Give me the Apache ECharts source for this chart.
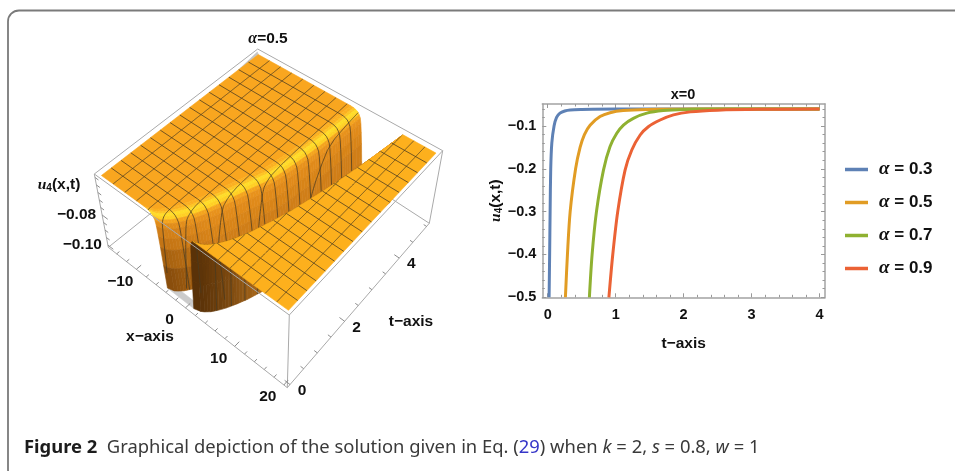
<!DOCTYPE html>
<html><head><meta charset="utf-8"><style>html,body{margin:0;background:#fff}#c{width:955px;height:471px}</style>
<script src="https://cdn.jsdelivr.net/npm/echarts@6/dist/echarts.min.js"></script></head>
<body><div id="c"></div><script>
// ---- right panel: curves ----
const t03=[0.02,0.028,0.035,0.044,0.06,0.093,0.13,0.18,0.25,0.33,0.5,1,2,4];
const u03=[-0.5,-0.4,-0.3,-0.2,-0.14,-0.1,-0.08,-0.07,-0.065,-0.0625,-0.0615,-0.0605,-0.0605,-0.0605];
const t05=[0.26,0.29,0.33,0.41,0.476,0.54,0.623,0.77,0.917,1.11,1.458,2.2,4];
const u05=[-0.5,-0.4,-0.3,-0.2,-0.15,-0.12,-0.098,-0.078,-0.069,-0.064,-0.0615,-0.0605,-0.0605];
const t07=[0.613,0.653,0.717,0.82,0.917,1.016,1.114,1.26,1.458,1.7,2.0,2.6,4];
const u07=[-0.5,-0.4,-0.3,-0.203,-0.148,-0.117,-0.0977,-0.082,-0.07,-0.064,-0.0615,-0.0605,-0.0605];
const t09=[0.9,0.957,1.03,1.138,1.237,1.36,1.48,1.654,1.85,2.1,2.5,3.1,4];
const u09=[-0.5,-0.4,-0.3,-0.203,-0.156,-0.121,-0.1016,-0.086,-0.074,-0.067,-0.063,-0.061,-0.0605];
const names=['α = 0.3','α = 0.5','α = 0.7','α = 0.9'];
const lineColors=['#5e81b5','#e19c24','#8fb131','#eb6235'];
const tTicks=[0,1,2,3,4];
const tMinor=[0.2,0.4,0.6,0.8,1.2,1.4,1.6,1.8,2.2,2.4,2.6,2.8,3.2,3.4,3.6,3.8];
const uTicks=[-0.5,-0.4,-0.3,-0.2,-0.1];
const uMinor=[-0.48,-0.46,-0.44,-0.42,-0.38,-0.36,-0.34,-0.32,-0.28,-0.26,-0.24,-0.22,-0.18,-0.16,-0.14,-0.12,-0.08,-0.06];

// ---- left panel: surface ----
// t rows, crest of the left and right plateau (x value where the wall begins)
const tNodes=[0,0.05,0.1,0.2,0.35,0.5,0.75,1,1.5,2,2.5,3,3.5,4,4.5,5];
const leftCrest=[-7.1,-6,-5.6,-4.95,-4.3,-3.7,-2.95,-2.3,-1.2,-0.1,1.1,1.7,2.2,2.6,2.9,3.2];
const rightCrest=[2.1,3.2,3.7,4.4,5.1,5.7,6.5,7.2,8.3,9.3,10.1,10.9,11.6,12.3,12.9,13.5];
// wall shape: distance from crest and fraction of the drop from plateau to floor
const leftOff=[0,0.6,1.0,1.4,1.7,1.95,2.1,2.25,2.4,2.6,2.85];
const leftDrop=[0,0.004,0.012,0.03,0.06,0.1,0.17,0.3,0.45,0.7,1];
const leftColNear=['#f9a61f','#fbb020','#fdc524','#ffdc28','#ffd024','#f4a41e','#e08c1a','#d07e18','#c47414','#a86210','#8a4e0c'];
const leftColFar=['#f9a61f','#fbb020','#fdc524','#ffdc28','#ffd024','#f4a41e','#e8921c','#e08a1a','#d88418','#d07e18','#c87816'];
const rightOff=[0,0.3,0.5,0.65,0.8,1.0];
const rightDrop=[0,0.03,0.1,0.3,0.6,1];
const rightCol=['#fdae1c','#f39a1a','#e0801a','#c06a14','#a05a10','#8a4e0c'];
const xMesh=[-12.8125,-10.625,-8.4375,-6.25,-4.0625,-1.875,0.3125,2.5,4.6875,6.875,9.0625,11.25,13.4375,15.625,17.8125];
const tMesh=[0.3125,0.625,0.9375,1.25,1.5625,1.875,2.1875,2.5,2.8125,3.125,3.4375,3.75,4.0625,4.375,4.6875];
const xEnds=[-15,20], tEnds=[0,5];
const plateauZ=-0.0535, floorZ=-0.101;
const floorPatchX=[-4.25,1.1,2.2,-2.5], floorPatchT=[0,0,0.15,0.15];
const cornerPatchX=[-15,-15.5,-15], cornerPatchT=[4.4,5.05,5];
const xAxisTicks=[-10,0,10,20], tAxisTicks=[0,2,4], zAxisTicks=[-0.08,-0.1];
const xAxisMinor=[-14,-12,-8,-6,-4,-2,2,4,6,8,12,14,16,18];
const tAxisMinor=[0.5,1,1.5,2.5,3,3.5,4.5,5];
const zAxisMinor=[-0.055,-0.06,-0.065,-0.07,-0.075,-0.085,-0.09,-0.095];

const boxX=[-15.7,20.7], boxT=[-0.1,5.1], boxZ=[-0.1015,-0.0527];
const topFace=[[94.3,174],[289.3,315],[442.7,150.7],[257.7,49]];
const botFace=[[108.3,247.3],[287.3,387.7],[429.3,223.3],[268.7,119]];
function bil(c,u,v,k){return c[0][k]*(1-u)*(1-v)+c[1][k]*u*(1-v)+c[2][k]*u*v+c[3][k]*(1-u)*v;}
function proj(x,t,z){
  const u=(x-boxX[0])/(boxX[1]-boxX[0]),v=(t-boxT[0])/(boxT[1]-boxT[0]),w=(z-boxZ[0])/(boxZ[1]-boxZ[0]);
  return [0,1].map(k=>bil(botFace,u,v,k)*(1-w)+bil(topFace,u,v,k)*w);
}
function look(xs,ys,v){
  if(v<=xs[0])return ys[0];
  for(let i=1;i<xs.length;i++) if(v<=xs[i]) return ys[i-1]+(ys[i]-ys[i-1])*(v-xs[i-1])/(xs[i]-xs[i-1]);
  return ys[ys.length-1];
}
const cL=t=>look(tNodes,leftCrest,t), cR=t=>look(tNodes,rightCrest,t);
const dz=f=>plateauZ+f*(floorZ-plateauZ);
const leftMax=leftOff[leftOff.length-1], rightMax=rightOff[rightOff.length-1];
function classify(x,t){
  const a=cL(t),b=cR(t);
  if(x<=a+leftMax) return {c:'L',f:x<=a?0:look(leftOff,leftDrop,x-a)};
  if(x>=b) return {c:'P',f:0};
  if(b-x<=rightMax) return {c:'W',f:look(rightOff,rightDrop,b-x)};
  return {c:'H',f:2};
}
function mix(a,b,s){
  const p=h=>[1,3,5].map(i=>parseInt(h.substr(i,2),16));
  const A=p(a),B=p(b);return 'rgb('+A.map((c,i)=>Math.round(c+(B[i]-c)*s)).join(',')+')';
}
function area(P){let s=0;for(let i=0;i<P.length;i++){const a=P[i],b=P[(i+1)%P.length];s+=a[0]*b[1]-b[0]*a[1];}return s;}

function refine(list,step){
  const out=[];
  list.forEach((r,i)=>{out.push(r);if(i<list.length-1){const n=Math.ceil((list[i+1]-r)/step);for(let k=1;k<n;k++)out.push(r+(list[i+1]-r)*k/n);}});
  return out;
}

function surfaceChildren(api){
  const out=[];
  const C=p=>api.coord(p);
  const poly=(pts,fill)=>out.push({type:'polygon',shape:{points:pts.map(C)},silent:true,style:{fill,stroke:fill,lineWidth:0.6}});
  const line=(pts,stroke,lw)=>{if(pts.length>1)out.push({type:'polyline',shape:{points:pts.map(C)},silent:true,style:{fill:null,stroke,lineWidth:lw}});};
  const meshCol='rgba(72,58,32,0.85)';
  const boxCol='#a9a9a9';
  // back edges of the box
  line([botFace[0],botFace[3],botFace[2]],boxCol,1);
  line([topFace[0],topFace[3],topFace[2]],boxCol,1);
  poly(floorPatchX.map((x,i)=>proj(x,floorPatchT[i],floorZ)),'#cbcbcb');
  poly(cornerPatchX.map((x,i)=>proj(x,cornerPatchT[i],plateauZ)),'#c4c4c4');
  const rows=refine([...new Set([...tNodes,...tMesh])].sort((a,b)=>a-b),0.08);
  const lineRows=refine(rows,0.02);
  // mesh lines sorted into layers
  const layers={L:[],W:[],P:[]};
  const addSeq=seq=>{ // seq: [{c,f,x,t}]
    let cur=null,curC=null;
    seq.forEach(s=>{
      if(s.c==='H'){cur=null;curC=null;return;}
      const p=proj(s.x,s.t,dz(s.f));
      if(s.c!==curC){const prev=cur&&cur[cur.length-1];cur=prev?[prev]:[];curC=s.c;layers[s.c].push(cur);}
      cur.push(p);
    });
  };
  xMesh.forEach(X=>addSeq(lineRows.map(t=>Object.assign({x:X,t},classify(X,t)))));
  tMesh.forEach(T=>{
    const a=cL(T),b=cR(T),seq=[{c:'L',f:0,x:xEnds[0],t:T}];
    leftOff.forEach((o,i)=>seq.push({c:'L',f:leftDrop[i],x:a+o,t:T}));
    seq.push({c:'H',f:2,x:0,t:T});
    for(let i=rightOff.length-1;i>=0;i--)seq.push({c:'W',f:rightDrop[i],x:b-rightOff[i],t:T});
    seq.push({c:'P',f:0,x:b,t:T},{c:'P',f:0,x:xEnds[1],t:T});
    addSeq(seq);
  });
  const drawLayer=k=>layers[k].forEach(p=>line(p,meshCol,0.9));
  // left plateau as one polygon, then left wall far to near
  poly([proj(xEnds[0],0,plateauZ),...rows.map(t=>proj(cL(t),t,plateauZ)),proj(xEnds[0],5,plateauZ)],'#f9a61f');
  for(let j=rows.length-2;j>=0;j--){
    const t0=rows[j],t1=rows[j+1];
    for(let i=0;i<leftOff.length-1;i++){
      const q=[proj(cL(t0)+leftOff[i],t0,dz(leftDrop[i])),proj(cL(t0)+leftOff[i+1],t0,dz(leftDrop[i+1])),
               proj(cL(t1)+leftOff[i+1],t1,dz(leftDrop[i+1])),proj(cL(t1)+leftOff[i],t1,dz(leftDrop[i]))];
      poly(q,mix(leftColNear[i+1],leftColFar[i+1],Math.min(1,t0/0.9)));
    }
  }
  drawLayer('L');
  // right wall
  const upArea=area([proj(0,0,plateauZ),proj(1,0,plateauZ),proj(1,1,plateauZ),proj(0,1,plateauZ)]);
  for(let j=rows.length-2;j>=0;j--){
    const t0=rows[j],t1=rows[j+1];
    for(let i=rightOff.length-2;i>=0;i--){
      const q=[proj(cR(t0)-rightOff[i+1],t0,dz(rightDrop[i+1])),proj(cR(t0)-rightOff[i],t0,dz(rightDrop[i])),
               proj(cR(t1)-rightOff[i],t1,dz(rightDrop[i])),proj(cR(t1)-rightOff[i+1],t1,dz(rightDrop[i+1]))];
      const back=area(q)*upArea<0;
      poly(q,back?mix('#5a3208','#b26e1c',Math.min(1,t0/1.4)):rightCol[i+1]);
    }
  }
  drawLayer('W');
  // right plateau
  poly([...rows.map(t=>proj(cR(t),t,plateauZ)),proj(xEnds[1],5,plateauZ),proj(xEnds[1],0,plateauZ)],'#fdb01d');
  drawLayer('P');
  // front edges of the box
  line([topFace[0],topFace[1],topFace[2]],boxCol,1);
  line([botFace[0],botFace[1],botFace[2]],boxCol,1);
  line([topFace[0],botFace[0]],boxCol,1); line([topFace[1],botFace[1]],boxCol,1); line([topFace[2],botFace[2]],boxCol,1);
  // ticks
  const zb=boxZ[0],xb=boxX[1],tb=boxT[0],tk='#8c8c8c';
  xAxisTicks.forEach(x=>line([proj(x,tb,zb),proj(x,tb+0.16,zb)],tk,1));
  xAxisMinor.forEach(x=>line([proj(x,tb,zb),proj(x,tb+0.09,zb)],tk,1));
  tAxisTicks.forEach(t=>line([proj(xb,t,zb),proj(xb-1.1,t,zb)],tk,1));
  tAxisMinor.forEach(t=>line([proj(xb,t,zb),proj(xb-0.65,t,zb)],tk,1));
  zAxisTicks.forEach(z=>line([proj(boxX[0],tb,z),proj(boxX[0]+1.1,tb,z)],tk,1));
  zAxisMinor.forEach(z=>line([proj(boxX[0],tb,z),proj(boxX[0]+0.65,tb,z)],tk,1));
  // labels
  const font='bold 15.5px "Liberation Sans"';
  const txt=(p,text,o={})=>{const c=C(p);out.push({type:'text',x:c[0],y:c[1],silent:true,style:Object.assign({text,font,fill:'#111',align:'center',verticalAlign:'middle'},o)});};
  const m=s=>String(s).replace('-','−');
  xAxisTicks.forEach(x=>{const p=proj(x,tb,zb);txt([p[0]-16,p[1]+12],m(x));});
  tAxisTicks.forEach(t=>{const p=proj(xb,t,zb);txt([p[0]+12,p[1]+6],m(t));});
  zAxisTicks.forEach(z=>{const p=proj(boxX[0],tb,z);txt([p[0]-6,p[1]],m(z.toFixed(2)),{align:'right'});});
  txt([150,337],'x−axis');
  txt([411,322],'t−axis');
  txt([59,185],'{i|u}{s|4}{n|(x,t)}',{rich:{i:{font:'italic bold 15.5px "Liberation Serif"',fill:'#111'},s:{font:'bold 10px "Liberation Sans"',fill:'#111',verticalAlign:'bottom',padding:[6,0,0,0]},n:{font,fill:'#111'}}});
  txt([268,38.5],'{i|α}{n|=0.5}',{rich:{i:{font:'italic bold 16px "Liberation Serif"',fill:'#111'},n:{font,fill:'#111'}}});
  return out;
}

const pair=(a,b)=>a.map((v,i)=>[v,b[i]]);
const frame='#a3a3a3';
const G={left:542.3,right:130,top:104,bottom:173.7};
const tickFont={fontFamily:'Liberation Sans',fontWeight:'bold',fontSize:14.5,color:'#111'};
function xA(pos,vals,len,extra){return Object.assign({gridIndex:1,type:'value',position:pos,min:-0.08,max:4.08,splitLine:{show:false},
  axisLine:{show:extra&&extra.line||false,onZero:false,lineStyle:{color:frame,width:1.5}},
  axisTick:{show:true,inside:true,length:len,customValues:vals,lineStyle:{color:'#999',width:1}},axisLabel:{show:false}},extra&&extra.o);}
function yA(pos,vals,len,extra){return Object.assign({gridIndex:1,type:'value',position:pos,min:-0.5,max:-0.0486,splitLine:{show:false},
  axisLine:{show:extra&&extra.line||false,onZero:false,lineStyle:{color:frame,width:1.5}},
  axisTick:{show:true,inside:true,length:len,customValues:vals,lineStyle:{color:'#999',width:1}},axisLabel:{show:false}},extra&&extra.o);}
const sets=[[t03,u03],[t05,u05],[t07,u07],[t09,u09]];
const option={
  animation:false,
  textStyle:{fontFamily:'Liberation Sans'},
  title:{text:'x=0',left:683,top:87,textAlign:'center',textStyle:{fontFamily:'Liberation Sans',fontWeight:'bold',fontSize:14.5,color:'#111'},itemGap:0,padding:0},
  grid:[{left:0,top:0,right:0,bottom:0},G],
  xAxis:[
    {gridIndex:0,type:'value',min:0,max:955,show:false},
    xA('bottom',tTicks,4,{line:true,o:{axisLabel:{show:true,customValues:tTicks,margin:10,...tickFont},name:'t−axis',nameLocation:'middle',nameGap:38,nameTextStyle:{...tickFont,fontSize:15.5}}}),
    xA('bottom',tMinor,2.5),
    xA('top',tTicks,4,{line:true}),
    xA('top',tMinor,2.5)
  ],
  yAxis:[
    {gridIndex:0,type:'value',min:0,max:471,inverse:true,show:false},
    yA('left',uTicks,4,{line:true,o:{axisLabel:{show:true,customValues:uTicks,margin:6,...tickFont,formatter:v=>v.toFixed(1).replace('-','−')},
      name:'{i|u}{s|4}{n|(x,t)}',nameLocation:'middle',nameGap:36,nameRotate:90,nameTextStyle:{rich:{i:{fontFamily:'Liberation Serif',fontStyle:'italic',fontWeight:'bold',fontSize:15.5,color:'#111'},s:{fontFamily:'Liberation Sans',fontWeight:'bold',fontSize:10,color:'#111',verticalAlign:'bottom',padding:[6,0,0,0]},n:{...tickFont,fontSize:15.5}}}}}),
    yA('left',uMinor,2.5),
    yA('right',uTicks,4,{line:true}),
    yA('right',uMinor,2.5)
  ],
  legend:{orient:'vertical',left:845,top:160,itemWidth:23,itemHeight:3.5,itemGap:14,icon:'rect',padding:0,data:names,
    formatter:n=>'{i|α}{n|'+n.slice(1)+'}',
    textStyle:{padding:[0,0,0,6],rich:{i:{fontFamily:'Liberation Serif',fontStyle:'italic',fontWeight:'bold',fontSize:19,color:'#111',lineHeight:16},n:{...tickFont,fontSize:17,lineHeight:16}}}},
  graphic:[
    {type:'rect',z:-1,silent:true,shape:{x:8,y:10.5,width:1000,height:470,r:11},style:{fill:'none',stroke:'#7a7a7a',lineWidth:1.8}},
    {type:'text',silent:true,x:24,y:448,style:{text:'{b|Figure 2}{t|  Graphical depiction of the solution given in Eq. (}{l|29}{t|) when }{e|k}{t| = 2, }{e|s}{t| = 0.8, }{e|w}{t| = 1}',verticalAlign:'middle',
      rich:{b:{fontFamily:'Noto Sans',fontWeight:'bold',fontSize:18.4,fill:'#1c1c1c'},t:{fontFamily:'Noto Sans',fontSize:18.4,fill:'#3a3a3a'},l:{fontFamily:'Noto Sans',fontSize:18.4,fill:'#3636c8'},e:{fontFamily:'Noto Sans',fontStyle:'italic',fontSize:18.4,fill:'#3a3a3a'}}}}
  ],
  series:[
    {type:'custom',coordinateSystem:'cartesian2d',xAxisIndex:0,yAxisIndex:0,clip:false,silent:true,data:[[0,0]],
      renderItem:(p,api)=>({type:'group',children:surfaceChildren(api)})},
    ...sets.map((s,i)=>({type:'line',name:names[i],xAxisIndex:1,yAxisIndex:1,data:pair(s[0],s[1]),showSymbol:false,symbol:'none',smooth:0.3,
      clip:true,lineStyle:{width:3,color:lineColors[i]},itemStyle:{color:lineColors[i]},z:3+i}))
  ]
};
echarts.init(document.getElementById('c'),null,{renderer:'canvas'}).setOption(option);
</script></body></html>
